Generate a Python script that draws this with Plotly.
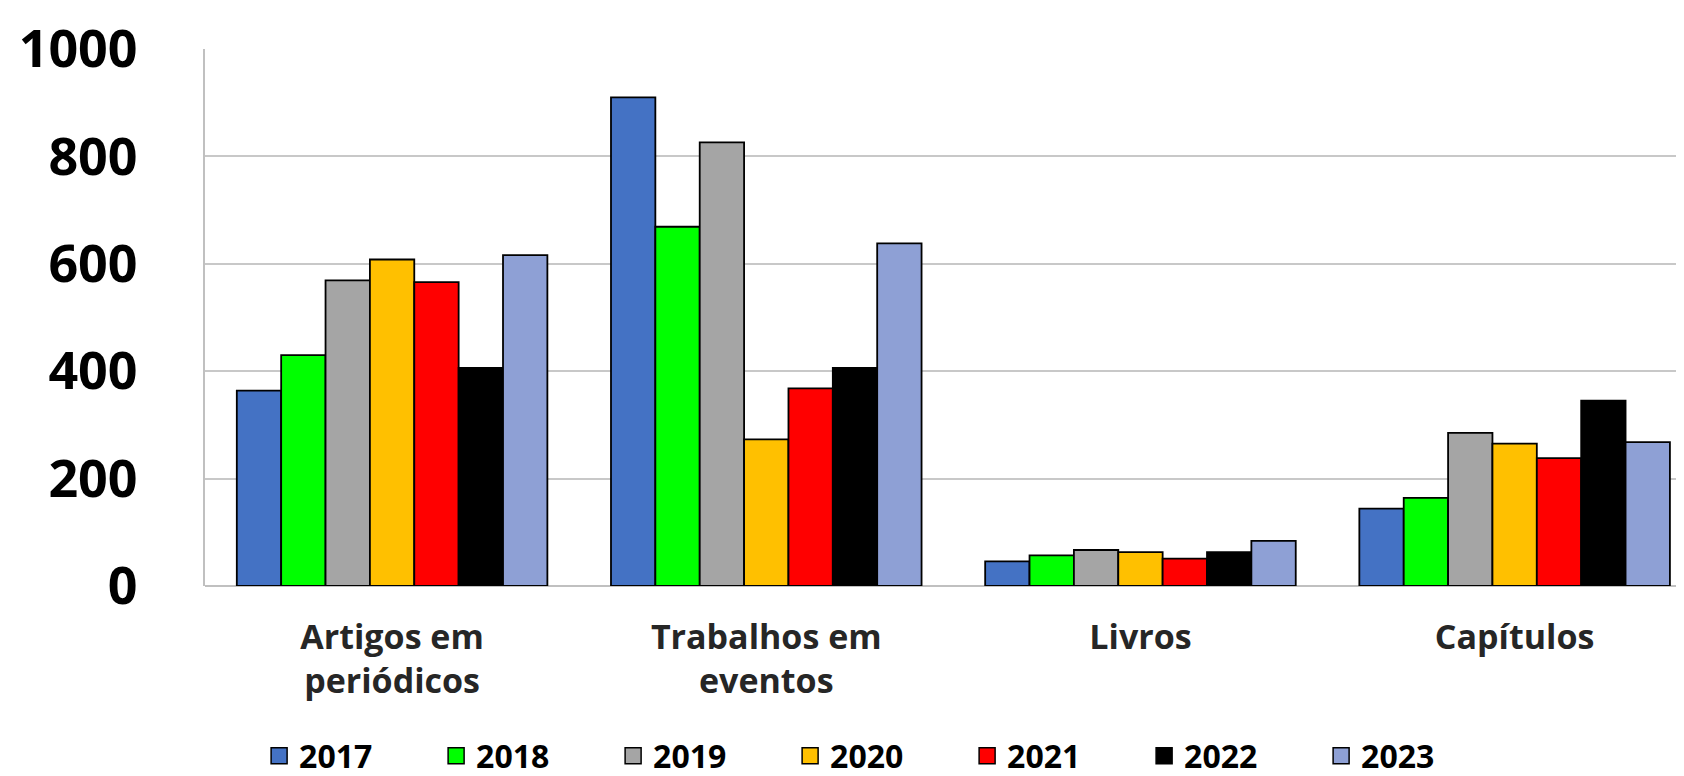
import plotly.graph_objects as go

categories = ["Artigos em<br>periódicos", "Trabalhos em<br>eventos", "Livros", "Capítulos"]
years = ["2017", "2018", "2019", "2020", "2021", "2022", "2023"]

v2017 = [364, 910, 46, 144]
v2018 = [430, 669, 57, 164]
v2019 = [569, 826, 67, 285]
v2020 = [608, 273, 63, 265]
v2021 = [566, 368, 51, 238]
v2022 = [406, 406, 63, 345]
v2023 = [616, 638, 84, 268]

series = [v2017, v2018, v2019, v2020, v2021, v2022, v2023]
colors = ["#4472C4", "#00FF00", "#A5A5A5", "#FFC000", "#FF0000", "#000000", "#8EA0D5"]

y_ticks = [0, 200, 400, 600, 800, 1000]

FONT = "Open Sans"

fig = go.Figure()
for yr, vals, col in zip(years, series, colors):
    fig.add_trace(go.Bar(
        x=categories, y=vals, name=yr, showlegend=False,
        marker=dict(color=col, line=dict(color="#000000", width=1.8)),
    ))
# legend proxies (larger square swatches)
for yr, col in zip(years, colors):
    fig.add_trace(go.Scatter(
        x=[None], y=[None], mode="markers", name=yr,
        marker=dict(symbol="square", size=16, color=col,
                    line=dict(color="#000000", width=1.5)),
    ))

fig.update_layout(
    width=1684, height=776,
    margin=dict(l=197, r=0, t=41, b=198),
    paper_bgcolor="white", plot_bgcolor="white",
    barmode="group", bargap=0.17, bargroupgap=0,
    font=dict(family=FONT, color="#000000"),
    legend=dict(
        orientation="h", x=0.453, xanchor="center", y=28 / 776, yanchor="middle",
        yref="container", entrywidth=132, entrywidthmode="pixels",
        font=dict(family=FONT, size=32, color="#000000", weight="bold"),
        itemwidth=30, tracegroupgap=0,
    ),
)

fig.update_xaxes(
    type="category", range=[-0.5, 3.474],
    showline=False, showgrid=False, ticks="",
    tickfont=dict(family=FONT, size=34, color="#262626", weight="bold"),
    ticklabelstandoff=28,
)
fig.update_yaxes(
    range=[0, 1000], tickvals=y_ticks,
    showgrid=True, gridcolor="#C8C8C8", gridwidth=2,
    showline=True, linecolor="#C0C0C0", linewidth=2,
    zeroline=True, zerolinecolor="#C0C0C0", zerolinewidth=2,
    ticks="", tickfont=dict(family=FONT, size=52, color="#000000", weight="bold"),
    ticklabelstandoff=55,
)

fig.write_html("out.html")
